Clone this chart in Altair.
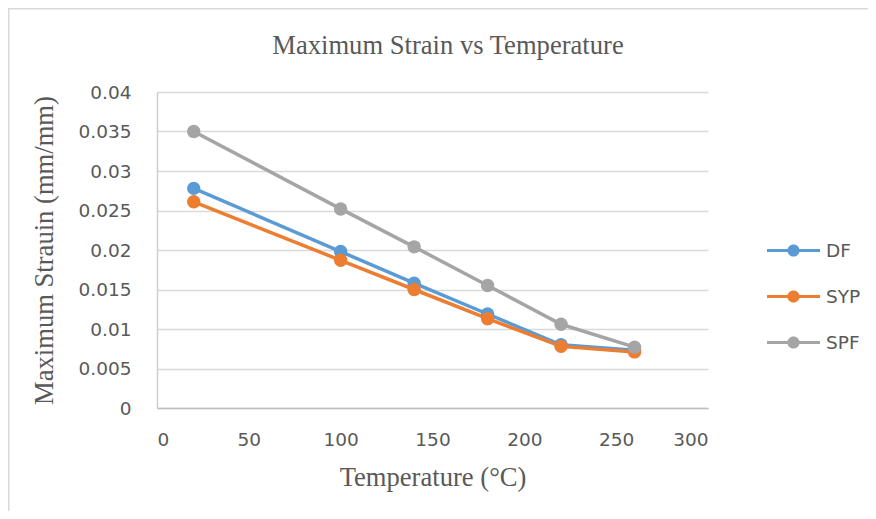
import altair as alt
import pandas as pd

temps = [20, 100, 140, 180, 220, 260]
df_vals = [0.0278, 0.0198, 0.0158, 0.0119, 0.0080, 0.0073]
syp_vals = [0.0261, 0.0187, 0.0150, 0.0113, 0.0078, 0.0071]
spf_vals = [0.0350, 0.0252, 0.0204, 0.0155, 0.0106, 0.0077]
series = ["DF", "SYP", "SPF"]
colors = ["#5b9bd5", "#ed7d31", "#a5a5a5"]
x_ticks = [0, 50, 100, 150, 200, 250, 300]
y_ticks = [0, 0.005, 0.01, 0.015, 0.02, 0.025, 0.03, 0.035, 0.04]

values = {"DF": df_vals, "SYP": syp_vals, "SPF": spf_vals}
rows = []
for s in series:
    for t, v in zip(temps, values[s]):
        rows.append({"Temperature": t, "Strain": v, "Series": s})
data = pd.DataFrame(rows)

LABEL_FONT = "DejaVu Sans"
LABEL_SIZE = 18.5
TITLE_FONT = "Liberation Serif"
GREY = "#595959"

legend_path = ("M-1,-0.06H1V0.06H-1Z"
               "M0.23,0A0.23,0.23,0,1,1,-0.23,0A0.23,0.23,0,1,1,0.23,0Z")

color_scale = alt.Scale(domain=series, range=colors)
color_leg = alt.Color(
    "Series:N",
    scale=color_scale,
    legend=alt.Legend(
        title=None,
        orient="none",
        legendX=610,
        legendY=132,
        rowPadding=10,
        symbolType=legend_path,
        symbolSize=2809,
        symbolStrokeWidth=0,
        labelFont=LABEL_FONT,
        labelFontSize=LABEL_SIZE,
        labelColor=GREY,
        labelOffset=6,
    ),
)

x_enc = alt.X(
    "Temperature:Q",
    scale=alt.Scale(domain=[0, 300], nice=False),
    axis=alt.Axis(
        values=x_ticks,
        title="Temperature (°C)",
        ticks=False,
        grid=False,
        domainColor="#bfbfbf",
        domainWidth=1.5,
        labelFont=LABEL_FONT,
        labelFontSize=LABEL_SIZE,
        labelColor=GREY,
        labelPadding=22,
        titleFont=TITLE_FONT,
        titleFontSize=26.6,
        titleFontWeight="normal",
        titleColor=GREY,
        titlePadding=16,
    ),
)
y_enc = alt.Y(
    "Strain:Q",
    scale=alt.Scale(domain=[0, 0.04], nice=False),
    axis=alt.Axis(
        values=y_ticks,
        format="~g",
        title="Maximum Strauin (mm/mm)",
        ticks=False,
        grid=True,
        gridColor="#d9d9d9",
        gridWidth=1.5,
        domainColor="#cfcfcf",
        domainWidth=1.5,
        labelFont=LABEL_FONT,
        labelFontSize=LABEL_SIZE,
        labelColor=GREY,
        labelPadding=26,
        titleFont=TITLE_FONT,
        titleFontSize=26.6,
        titleFontWeight="normal",
        titleColor=GREY,
        titlePadding=20,
    ),
)

border = alt.Chart(pd.DataFrame({"a": [0]})).mark_rect(
    filled=False, stroke="#d9d9d9", strokeWidth=1.5
).encode(
    x=alt.value(-148.25), x2=alt.value(900), y=alt.value(-83.25), y2=alt.value(700)
)

base = alt.Chart(data)
lines = base.mark_line(strokeWidth=3.5).encode(
    x=x_enc, y=y_enc, color=color_leg, detail="Series:N"
)
points = base.mark_point(filled=True, size=180, opacity=1).encode(
    x=x_enc, y=y_enc, color=color_leg
)

chart = alt.layer(border, lines, points).properties(
    width=551,
    height=316,
    padding={"left": 149, "top": 84, "right": 160, "bottom": 103},
    autosize=alt.AutoSizeParams(type="none"),
    title=alt.TitleParams(
        "Maximum Strain vs Temperature",
        font=TITLE_FONT,
        fontSize=26.6,
        fontWeight="normal",
        color=GREY,
        anchor="middle",
        frame="group",
        baseline="alphabetic",
        dx=15.5,
        offset=-73,
    ),
).configure_view(stroke=None)

chart.save("out.html", embed_options={"renderer": "svg", "actions": False})
